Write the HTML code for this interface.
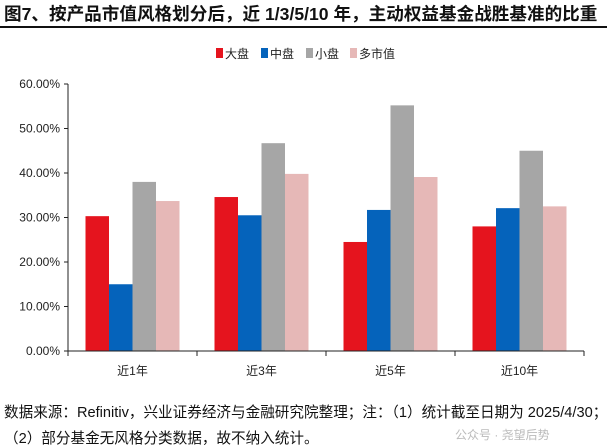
<!DOCTYPE html>
<html><head><meta charset="utf-8"><style>
body{margin:0;width:607px;height:446px;background:#fff;overflow:hidden;font-family:"Liberation Sans","Noto Sans CJK SC",sans-serif;position:relative}
.title{position:absolute;left:4px;top:1px;font-size:17.6px;font-weight:bold;color:#111;white-space:nowrap}
.rule{position:absolute;left:0;top:26px;width:607px;height:2px;background:#111}
.foot{position:absolute;left:4px;font-size:14.6px;color:#111;white-space:nowrap}
</style></head><body>
<div class="title">图7、按产品市值风格划分后，近 1/3/5/10 年，主动权益基金战胜基准的比重</div>
<div class="rule"></div>
<svg id="chart" width="607" height="446" style="position:absolute;left:0;top:0"></svg>
<div class="foot" style="top:401px">数据来源：Refinitiv，兴业证券经济与金融研究院整理；注：（1）统计截至日期为 2025/4/30；</div>
<div class="foot" style="top:427px">（2）部分基金无风格分类数据，故不纳入统计。</div>
<div style="position:absolute;left:455px;top:426px;font-size:12px;color:#bbb">公众号 · 尧望后势</div>
<script>
const categories=["近1年","近3年","近5年","近10年"];
const seriesNames=["大盘","中盘","小盘","多市值"];
const largeCap=[30.3,34.6,24.5,28.0];
const midCap=[15.0,30.5,31.7,32.1];
const smallCap=[38.0,46.7,55.2,45.0];
const multiCap=[33.7,39.8,39.1,32.5];
const yTicks=[0,10,20,30,40,50,60];
const colors=["#e5141e","#0563bb","#a6a6a6","#e6b8b7"];
const svg=document.getElementById('chart');const NS="http://www.w3.org/2000/svg";
const x0=68,y0=351,ppu=267/60,catW=129,barW=23.5;
const y=v=>y0-v*ppu;
function mk(t,a){const e=document.createElementNS(NS,t);for(const k in a)e.setAttribute(k,a[k]);svg.appendChild(e);return e;}
yTicks.forEach(v=>{
 const t=mk('text',{x:x0-8,y:y(v)+4,'text-anchor':'end','font-size':12,fill:'#222','font-family':'Liberation Sans, sans-serif'});t.textContent=v.toFixed(2)+'%';
 
 const l=mk('line',{x1:x0-4,x2:x0,y1:y(v),y2:y(v),stroke:'#222'});
 
});
const series=[largeCap,midCap,smallCap,multiCap];
series.forEach((s,si)=>s.forEach((v,ci)=>{
 const bx=x0+ci*catW+(catW-4*barW)/2+si*barW;
 const r=mk('rect',{x:bx,y:y(v),width:barW,height:v*ppu,fill:colors[si]});
 
 
}));
const ax=mk('line',{x1:x0,x2:x0,y1:y(60),y2:y0,stroke:'#222'});

const xa=mk('line',{x1:x0,x2:x0+4*catW,y1:y0,y2:y0,stroke:'#222'});

categories.forEach((c,i)=>{
 const tk=mk('line',{x1:x0+i*catW,x2:x0+i*catW,y1:y0,y2:y0+5,stroke:'#222'});
 
 const t=mk('text',{x:x0+(i+0.5)*catW,y:y0+24,'text-anchor':'middle','font-size':12,fill:'#222'});t.textContent=c;
 
});
const tk=mk('line',{x1:x0+4*catW,x2:x0+4*catW,y1:y0,y2:y0+5,stroke:'#222'});

const lx=[216,261,306,350];
seriesNames.forEach((n,i)=>{
 const r=mk('rect',{x:lx[i],y:48,width:7,height:10,fill:colors[i]});
 
 const t=mk('text',{x:lx[i]+9,y:58,'font-size':12,fill:'#222'});t.textContent=n;
 
});
</script>
</body></html>
